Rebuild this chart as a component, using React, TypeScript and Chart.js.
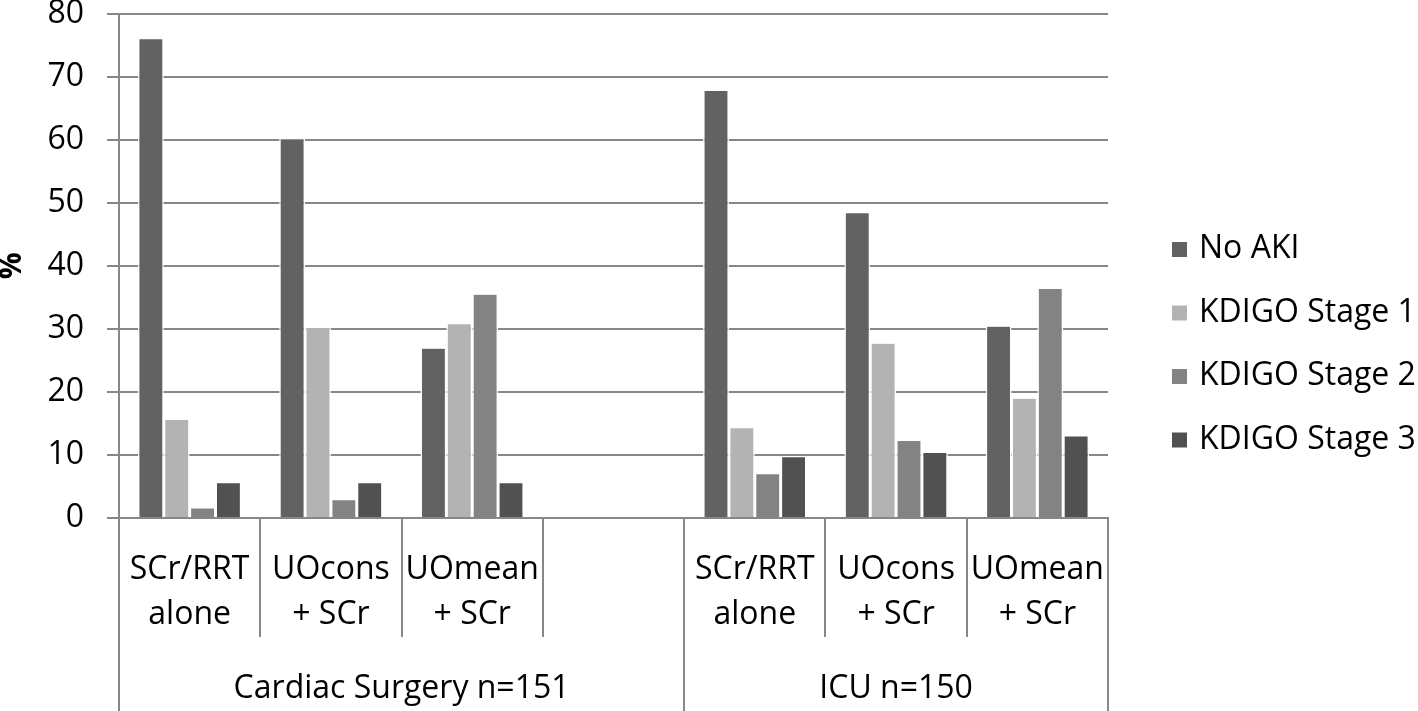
import React, { useEffect, useRef } from "react";
import { Chart, registerables } from "chart.js";

Chart.register(...registerables);

// ---------- data ----------
const categories: (string | string[])[] = [
  ["SCr/RRT", "alone"],
  ["UOcons", "+ SCr"],
  ["UOmean", "+ SCr"],
  "",
  ["SCr/RRT", "alone"],
  ["UOcons", "+ SCr"],
  ["UOmean", "+ SCr"],
];
const groupLabels = ["Cardiac Surgery n=151", "ICU n=150"];
const groupStart = [0, 4];
const groupEnd = [3, 6];

const seriesNames = ["No AKI", "KDIGO Stage 1", "KDIGO Stage 2", "KDIGO Stage 3"];
const noAki = [76.0, 60.1, 26.9, null, 67.8, 48.4, 30.4];
const stage1 = [15.6, 30.2, 30.8, null, 14.3, 27.7, 19.0];
const stage2 = [1.6, 2.9, 35.5, null, 7.0, 12.3, 36.4];
const stage3 = [5.6, 5.6, 5.6, null, 9.7, 10.4, 13.0];
const seriesColors = ["#626262", "#b3b3b3", "#838383", "#515151"];

const yMin = 0;
const yMax = 80;
const yStep = 10;
const yTitle = "%";

// ---------- style ----------
const FONT = "'Open Sans', 'Noto Sans', sans-serif";
const GRID = "#878787";

const overlayPlugin = {
  id: "overlay",
  afterDraw(chart: any) {
    const ctx: CanvasRenderingContext2D = chart.ctx;
    const area = chart.chartArea;
    const xs = chart.scales.x;
    const n = categories.length;
    const half = (xs.getPixelForValue(1) - xs.getPixelForValue(0)) / 2;
    const edge = (b: number) =>
      b < n ? xs.getPixelForValue(b) - half : xs.getPixelForValue(n - 1) + half;

    ctx.save();
    ctx.strokeStyle = GRID;
    ctx.lineWidth = 2;
    for (let b = 0; b <= n; b++) {
      const isGroupEdge = groupStart.includes(b) || groupEnd.map((e) => e + 1).includes(b);
      const px = Math.round(edge(b));
      ctx.beginPath();
      ctx.moveTo(px, area.bottom);
      ctx.lineTo(px, isGroupEdge ? chart.height : area.bottom + 119);
      ctx.stroke();
    }

    // group labels
    ctx.fillStyle = "#000";
    ctx.font = `32px ${FONT}`;
    ctx.textAlign = "center";
    ctx.textBaseline = "middle";
    groupLabels.forEach((g, i) => {
      const cx = (edge(groupStart[i]) + edge(groupEnd[i] + 1)) / 2;
      ctx.fillText(g, cx, area.bottom + 171);
    });

    // legend
    ctx.textAlign = "left";
    chart.data.datasets.forEach((ds: any, i: number) => {
      const y = 249 + i * 63.5;
      ctx.fillStyle = ds.backgroundColor;
      ctx.fillRect(1172, y - 7, 15, 15);
      ctx.fillStyle = "#000";
      ctx.fillText(ds.label, 1199, y);
    });
    ctx.restore();
  },
};

export default function App() {
  const ref = useRef<HTMLCanvasElement | null>(null);

  useEffect(() => {
    if (!ref.current) return;
    const seriesData = [noAki, stage1, stage2, stage3];
    const chart = new Chart(ref.current, {
      type: "bar",
      data: {
        labels: categories as any,
        datasets: seriesNames.map((name, i) => ({
          label: name,
          data: seriesData[i] as any,
          backgroundColor: seriesColors[i],
          borderColor: "#ffffff",
          borderWidth: { top: 0.5, left: 1.5, right: 1.5, bottom: 0 },
          borderSkipped: false,
          categoryPercentage: 0.732,
          barPercentage: 1,
        })),
      },
      options: {
        responsive: false,
        animation: false,
        layout: { padding: { top: 13.5, right: 310, left: 0, bottom: 0 } },
        plugins: {
          legend: { display: false },
          tooltip: { enabled: false },
        },
        scales: {
          x: {
            type: "category",
            grid: { display: false },
            border: { display: true, color: GRID, width: 2 },
            ticks: {
              color: "#000",
              font: { family: FONT, size: 32, lineHeight: 1.40625 },
              padding: 21,
              maxRotation: 0,
              autoSkip: false,
            },
            afterFit(scale: any) {
              scale.height = 193;
              scale.paddingLeft = 0;
              scale.paddingRight = 0;
            },
          },
          y: {
            min: yMin,
            max: yMax,
            grid: { color: GRID, lineWidth: 2, tickLength: 12, drawTicks: true },
            border: { display: true, color: GRID, width: 2 },
            ticks: {
              stepSize: yStep,
              color: "#000",
              font: { family: FONT, size: 32, lineHeight: 0.8 },
              padding: 23,
            },
            title: {
              display: true,
              text: yTitle,
              color: "#000",
              font: { family: FONT, size: 30, weight: "bold", lineHeight: 0.8 },
              padding: 0,
            },
            afterFit(scale: any) {
              scale.width = 119;
              scale.paddingTop = 0;
              scale.paddingBottom = 0;
            },
          },
        },
      },
      plugins: [overlayPlugin],
    });
    return () => chart.destroy();
  }, []);

  return (
    <div style={{ position: "fixed", left: 0, top: 0, width: 1418, height: 711, background: "#fff" }}>
      <canvas ref={ref} width={1418} height={711} style={{ display: "block" }} />
    </div>
  );
}
